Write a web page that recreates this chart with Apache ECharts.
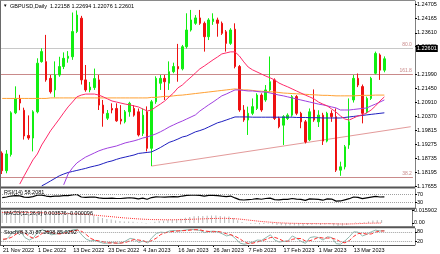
<!DOCTYPE html>
<html><head><meta charset="utf-8">
<script src="https://cdn.jsdelivr.net/npm/echarts@6/dist/echarts.min.js"></script>
<style>html,body{margin:0;padding:0;background:#fff;}#c{width:440px;height:254px;}</style>
</head><body><div id="c"></div>
<script>
const dates = [
'2022-11-21','2022-11-22','2022-11-23','2022-11-24','2022-11-25','2022-11-28','2022-11-29','2022-11-30',
'2022-12-01','2022-12-02','2022-12-05','2022-12-06','2022-12-07','2022-12-08','2022-12-09','2022-12-12','2022-12-13','2022-12-14','2022-12-15','2022-12-16','2022-12-19','2022-12-20','2022-12-21','2022-12-22','2022-12-23','2022-12-26','2022-12-27','2022-12-28','2022-12-29','2022-12-30',
'2023-01-02','2023-01-03','2023-01-04','2023-01-05','2023-01-06','2023-01-09','2023-01-10','2023-01-11','2023-01-12','2023-01-13','2023-01-16','2023-01-17','2023-01-18','2023-01-19','2023-01-20','2023-01-23','2023-01-24','2023-01-25','2023-01-26','2023-01-27','2023-01-30','2023-01-31',
'2023-02-01','2023-02-02','2023-02-03','2023-02-06','2023-02-07','2023-02-08','2023-02-09','2023-02-10','2023-02-13','2023-02-14','2023-02-15','2023-02-16','2023-02-17','2023-02-20','2023-02-21','2023-02-22','2023-02-23','2023-02-24','2023-02-27','2023-02-28',
'2023-03-01','2023-03-02','2023-03-03','2023-03-06','2023-03-07','2023-03-08','2023-03-09','2023-03-10','2023-03-13','2023-03-14','2023-03-15','2023-03-16','2023-03-17','2023-03-20','2023-03-21','2023-03-22'];
const shiftSlots = ['s1','s2','s3','s4','s5','s6'];
const tickLabels = ['21 Nov 2022','1 Dec 2022','13 Dec 2022','23 Dec 2022','4 Jan 2023','16 Jan 2023','26 Jan 2023','7 Feb 2023','17 Feb 2023','1 Mar 2023','13 Mar 2023'];
const tickEvery = 8;

const opens = [
1.1893,1.1825,1.1888,1.2050,1.2106,1.2060,1.1962,1.1952,1.2054,1.2249,
1.2249,1.2184,1.2139,1.2197,1.2230,1.2262,1.2268,1.2366,1.2418,1.2178,
1.2139,1.2148,1.2178,1.2080,1.2029,1.2067,1.2067,1.2025,1.2015,1.2054,
1.2067,1.2054,1.1970,1.2054,1.1912,1.2093,1.2165,1.2184,1.2165,1.2210,
1.2230,1.2221,1.2307,1.2372,1.2398,1.2419,1.2398,1.2346,1.2405,1.2411,
1.2398,1.2365,1.2320,1.2375,1.2230,1.2061,1.2022,1.2048,1.2067,1.2119,
1.2100,1.2139,1.2178,1.2028,1.2002,1.2028,1.2041,1.2113,1.2048,1.2015,
1.1945,1.2061,1.2015,1.2041,1.1940,1.2048,1.2035,1.1827,1.1840,1.1925,
1.2100,1.2184,1.2152,1.2054,1.2106,1.2204,1.2275,1.22158];
const closes = [
1.1825,1.1890,1.2050,1.2106,1.2088,1.1960,1.1952,1.2054,1.2243,1.2288,
1.2178,1.2132,1.2197,1.2230,1.2262,1.2270,1.2366,1.2430,1.2178,1.2139,
1.2150,1.2183,1.2080,1.2048,1.2048,1.2061,1.2019,1.2018,1.2054,1.2087,
1.2041,1.1964,1.2041,1.1912,1.2093,1.2184,1.2184,1.2171,1.2210,1.2230,
1.2221,1.2307,1.2372,1.2411,1.2419,1.2398,1.2346,1.2411,1.2415,1.2398,
1.2359,1.2320,1.2372,1.2230,1.2061,1.2022,1.2048,1.2074,1.2119,1.2061,
1.2139,1.2171,1.2028,1.1996,1.2035,1.2041,1.2113,1.2048,1.2015,1.1937,
1.2054,1.2022,1.2041,1.1940,1.2048,1.2035,1.1827,1.1840,1.1918,1.2015,
1.2184,1.2158,1.2048,1.2106,1.2184,1.2281,1.2216,1.22601];
const highs = [
1.1900,1.1905,1.2056,1.2153,1.2120,1.2070,1.2040,1.2060,1.2262,1.2301,
1.2353,1.2197,1.2250,1.2268,1.2285,1.2290,1.2440,1.2448,1.2427,1.2236,
1.2170,1.2222,1.2197,1.2100,1.2061,1.2087,1.2087,1.2080,1.2061,1.2093,
1.2080,1.2067,1.2067,1.2075,1.2100,1.2192,1.2197,1.2197,1.2250,1.2245,
1.2318,1.2314,1.2437,1.2450,1.2430,1.2450,1.2405,1.2418,1.2437,1.2420,
1.2405,1.2372,1.2379,1.2398,1.2236,1.2080,1.2074,1.2106,1.2126,1.2126,
1.2158,1.2269,1.2184,1.2035,1.2041,1.2048,1.2119,1.2119,1.2054,1.2022,
1.2067,1.2141,1.2060,1.2050,1.2054,1.2060,1.2067,1.1860,1.1925,1.2106,
1.2197,1.2203,1.2160,1.2113,1.2190,1.2288,1.2281,1.22694];
const lows = [
1.1812,1.1815,1.1880,1.2045,1.2060,1.1946,1.1945,1.1900,1.2048,1.2245,
1.2171,1.2125,1.2110,1.2190,1.2220,1.2245,1.2256,1.2360,1.2160,1.2132,
1.2130,1.2139,1.2061,1.1996,1.2022,1.2048,1.2015,1.2005,1.2009,1.2035,
1.2035,1.1958,1.1960,1.1900,1.1843,1.2085,1.2139,1.2100,1.2139,1.2204,
1.2171,1.2215,1.2300,1.2366,1.2392,1.2392,1.2288,1.2333,1.2392,1.2346,
1.2353,1.2288,1.2314,1.2223,1.2054,1.2015,1.1964,1.2041,1.2061,1.2054,
1.2093,1.2132,1.2022,1.1990,1.1925,1.2022,1.2035,1.2041,1.1990,1.1931,
1.1940,1.2015,1.1995,1.1925,1.1935,1.2015,1.1820,1.1805,1.1830,1.1910,
1.2090,1.2150,1.2009,1.2048,1.2100,1.2200,1.2178,1.22076];

const maPink = [
null,null,null,null,1.1773,1.1805,1.1836,1.1867,1.1890,1.1925,
1.1952,1.1980,1.2003,1.2026,1.2050,1.2073,1.2092,1.2112,1.2119,1.2123,
1.2123,1.2123,1.2119,1.2112,1.2104,1.2096,1.2092,1.2088,1.2084,1.2081,
1.2077,1.2073,1.2065,1.2057,1.2061,1.2073,1.2084,1.2096,1.2112,1.2127,
1.2147,1.2158,1.2174,1.2189,1.2205,1.2221,1.2232,1.2244,1.2256,1.2267,
1.2279,1.2283,1.2287,1.2287,1.2271,1.2248,1.2228,1.2217,1.2209,1.2201,
1.2193,1.2186,1.2178,1.2166,1.2158,1.2151,1.2143,1.2135,1.2127,1.2119,
1.2112,1.2104,1.2092,1.2084,1.2077,1.2065,1.2053,1.2038,1.2026,1.2022,
1.2030,1.2038,1.2042,1.2050,1.2061,1.2077,1.2096,1.2112];
const maPurple = [
null,null,null,null,null,null,null,null,null,null,
null,null,null,null,1.1770,1.1812,1.1836,1.1855,1.1867,1.1878,
1.1886,1.1894,1.1902,1.1908,1.1913,1.1917,1.1921,1.1927,1.1933,1.1937,
1.1941,1.1946,1.1952,1.1956,1.1962,1.1968,1.1976,1.1985,1.1995,1.2003,
1.2011,1.2018,1.2026,1.2034,1.2042,1.2057,1.2069,1.2081,1.2092,1.2104,
1.2116,1.2123,1.2131,1.2139,1.2139,1.2137,1.2135,1.2135,1.2133,1.2131,
1.2131,1.2127,1.2123,1.2119,1.2116,1.2112,1.2108,1.2104,1.2100,1.2096,
1.2092,1.2088,1.2084,1.2081,1.2077,1.2073,1.2069,1.2061,1.2061,1.2061,
1.2063,1.2065,1.2067,1.2069,1.2077,1.2084,1.2092,1.2100];
const maBlue = [
null,null,null,null,null,null,null,null,null,1.1766,
1.1775,1.1785,1.1795,1.1805,1.1812,1.1818,1.1822,1.1826,1.1830,1.1834,
1.1839,1.1843,1.1847,1.1853,1.1859,1.1863,1.1869,1.1874,1.1878,1.1882,
1.1886,1.1892,1.1894,1.1896,1.1898,1.1906,1.1915,1.1925,1.1935,1.1941,
1.1948,1.1956,1.1960,1.1968,1.1976,1.1981,1.1987,1.1995,1.2003,1.2011,
1.2016,1.2022,1.2028,1.2034,1.2034,1.2034,1.2034,1.2033,1.2033,1.2033,
1.2033,1.2033,1.2033,1.2033,1.2033,1.2033,1.2033,1.2032,1.2032,1.2032,
1.2031,1.2031,1.2031,1.2030,1.2030,1.2030,1.2030,1.2030,1.2032,1.2034,
1.2036,1.2038,1.2040,1.2042,1.2044,1.2046,1.2048,1.2050];
const maOrange = [
1.2106,1.2106,1.2106,1.2106,1.2106,1.2106,1.2106,1.2106,1.2106,1.2106,
1.2106,1.2108,1.2108,1.2108,1.2108,1.2108,1.2108,1.2108,1.2108,1.2108,
1.2108,1.2108,1.2108,1.2108,1.2108,1.2108,1.2108,1.2108,1.2108,1.2108,
1.2108,1.2108,1.2108,1.2108,1.2110,1.2110,1.2112,1.2114,1.2114,1.2116,
1.2118,1.2119,1.2121,1.2123,1.2125,1.2127,1.2129,1.2131,1.2133,1.2135,
1.2137,1.2139,1.2141,1.2143,1.2141,1.2139,1.2139,1.2137,1.2135,1.2134,
1.2133,1.2132,1.2131,1.2129,1.2127,1.2126,1.2125,1.2124,1.2123,1.2122,
1.2121,1.2120,1.2119,1.2118,1.2118,1.2117,1.2116,1.2116,1.2116,1.2116,
1.2116,1.2117,1.2118,1.2118,1.2118,1.2119,1.2119,1.2119];

const rsi = [
55,58,63,65,64,57,56,60,67,68,
63,60,62,63,65,65,69,71,58,56,
57,58,53,51,51,52,50,50,52,54,
52,48,52,46,55,59,58,57,59,60,
59,63,66,67,67,66,63,66,66,65,
62,60,63,53,44,42,44,46,49,46,
50,52,44,43,45,45,50,47,45,40,
48,47,45,41,48,47,36,37,43,49,
58,56,49,53,57,61,58,58.2081];
const macdMain = [
0.0150,0.0148,0.0155,0.0159,0.0158,0.0147,0.0136,0.0133,0.0144,0.0153,
0.0149,0.0141,0.0137,0.0135,0.0134,0.0132,0.0137,0.0144,0.0128,0.0112,
0.0099,0.0090,0.0075,0.0061,0.0049,0.0041,0.0031,0.0023,0.0019,0.0018,
0.0015,0.0006,0.0004,-0.0006,0.0002,0.0015,0.0023,0.0028,0.0035,0.0041,
0.0044,0.0052,0.0063,0.0074,0.0082,0.0086,0.0085,0.0088,0.0090,0.0090,
0.0086,0.0079,0.0078,0.0061,0.0034,0.0010,-0.0005,-0.0011,-0.0011,-0.0015,
-0.0012,-0.0007,-0.0016,-0.0025,-0.0029,-0.0031,-0.0027,-0.0028,-0.0031,-0.0035,
-0.0026,-0.0021,-0.0020,-0.0025,-0.0020,-0.0017,-0.0033,-0.0037,-0.0034,-0.0024,
-0.0005,0.0005,0.0004,0.0009,0.0018,0.0029,0.0032,0.003576];
const macdSignal = [
0.0128,0.0129,0.0130,0.0131,0.0131,0.0130,0.0129,0.0127,0.0126,0.0125,
0.0124,0.0122,0.0120,0.0118,0.0116,0.0114,0.0113,0.0112,0.0110,0.0106,
0.0102,0.0097,0.0092,0.0087,0.0082,0.0077,0.0072,0.0067,0.0062,0.0058,
0.0054,0.0050,0.0047,0.0044,0.0042,0.0041,0.0040,0.0039,0.0039,0.0039,
0.0040,0.0041,0.0042,0.0044,0.0046,0.0048,0.0050,0.0052,0.0054,0.0055,
0.0056,0.0056,0.0055,0.0053,0.0049,0.0044,0.0038,0.0032,0.0026,0.0020,
0.0015,0.0011,0.0007,0.0003,0.0000,-0.0002,-0.0004,-0.0005,-0.0006,-0.0007,
-0.0008,-0.0008,-0.0008,-0.0009,-0.0009,-0.0009,-0.0010,-0.0012,-0.0013,-0.0013,
-0.0012,-0.0010,-0.0008,-0.0006,-0.0004,-0.0003,-0.0002,-0.000096];
const stochMain = [
30,40,70,88,82,45,30,45,80,92,
78,62,66,72,80,84,92,95,60,35,
25,28,18,10,12,15,10,12,25,40,
35,15,25,12,45,70,78,75,85,88,
84,88,92,94,92,88,75,82,84,80,
68,55,62,40,12,5,10,18,30,28,
45,62,30,18,22,25,55,40,22,10,
45,50,45,30,50,45,8,5,25,50,
80,78,55,65,80,90,85,87.2698];
const stochSignal = [
35,38,47,66,80,72,52,40,52,72,
83,77,69,67,73,79,85,90,82,63,
40,29,24,19,13,12,12,12,16,26,
33,30,25,17,27,42,64,74,79,83,
86,87,88,91,93,91,85,82,80,82,
77,68,62,52,38,19,9,11,19,25,
34,45,46,37,23,22,34,40,39,24,
26,35,47,42,42,42,34,19,13,27,
52,69,71,66,67,78,85,85.0292];

const priceTicks = [1.24705,1.24165,1.23610,1.23070,1.21990,1.21450,1.20910,1.20370,1.19815,1.19275,1.18735,1.18195,1.17655];
const fibLevels = [1.22905, 1.22089, 1.18240];
const fibNames = ['80.0', '161.8', '38.2'];
const bidPrice = 1.22601;
const trendStart = {index: 34, price: 1.1843};
const trendEnd = {index: 93, price: 1.1996};
const header = 'GBPUSD,Daily  1.22158 1.22694 1.22076 1.22601';

const all = [opens,closes,highs,lows,maPink,maPurple,maBlue,maOrange,rsi,macdMain,macdSignal,stochMain,stochSignal];
all.forEach((a,k)=>{ if(a.length!==dates.length) throw new Error('len '+k+' '+a.length); });

const cats = dates.concat(shiftSlots);
const FONT = 'Liberation Sans';
const AX = '#808080';
const chart = echarts.init(document.getElementById('c'), null, {renderer:'canvas'});

const gridL = -0.7, gridW = 4.4*cats.length;
const grids = [
  {left:gridL, top:1, width:gridW, height:186},
  {left:gridL, top:189, width:gridW, height:19},
  {left:gridL, top:210, width:gridW, height:16},
  {left:gridL, top:228.5, width:gridW, height:16.5}
];
const showTick = (i)=>i%tickEvery===0 && i/tickEvery<tickLabels.length;
const xAxes = grids.map((g,k)=>({
  type:'category', gridIndex:k, data:cats, boundaryGap:true,
  axisLine:{show:false},
  axisTick:{show:k===3, alignWithLabel:true, length:2, interval:showTick, lineStyle:{color:'#000'}},
  axisLabel:{show:k===3, interval:showTick,
    formatter:(v,i)=>tickLabels[i/tickEvery]||'', align:'left', fontSize:5.5, color:'#000', margin:2, fontFamily:FONT},
  splitLine:{show:false}
}));
function yAx(k,min,max,vals,fmt){
  return {type:'value', gridIndex:k, position:'right', offset:2.1, min:min, max:max,
    splitLine:{show:false},
    axisLine:{show:true, lineStyle:{color:AX, width:1}},
    axisTick:{show:true, length:2, customValues:vals, lineStyle:{color:'#000'}},
    axisLabel:{customValues:vals, formatter:fmt, fontSize:5.5, color:'#000', margin:2, fontFamily:FONT}};
}
const yAxes = [
  yAx(0,1.17616,1.24848,priceTicks,v=>v.toFixed(5)),
  yAx(1,0,100,[100,70,30,0],v=>String(v)),
  yAx(2,-0.003776,0.015902,[0.015902,0,-0.003776],v=>v===0?'0.00':v.toFixed(6)),
  yAx(3,0,100,[100,80,20],v=>String(v))
];

const fibLine = fibLevels.map((v,i)=>({yAxis:v, lineStyle:{color:'#c98a8a', width:1, type:'solid'},
  label:{show:true, formatter:fibNames[i], position:'insideEndTop', distance:1, color:'#c98a8a', fontSize:5, fontFamily:FONT}}));
const bidLine = {yAxis:bidPrice, lineStyle:{color:'#c8c8c8', width:1, type:'solid'},
  label:{show:true, position:'end', distance:3, formatter:bidPrice.toFixed(5), backgroundColor:'#000', color:'#fff', fontSize:5.5, fontFamily:FONT, padding:[1,1,0,1]}};
const trendLine = [{coord:[cats[trendStart.index], trendStart.price]},{coord:[cats[trendEnd.index], trendEnd.price], lineStyle:{color:'#e39a9a', width:1, type:'solid'}, label:{show:false}}];

function maSeries(data,color){
  return {type:'line', xAxisIndex:0, yAxisIndex:0, data:data, symbol:'none', z:5,
    lineStyle:{color:color, width:1}, connectNulls:false, silent:true};
}
const series = [
  {type:'candlestick', xAxisIndex:0, yAxisIndex:0, barWidth:2, z:3,
    data: opens.map((o,i)=>[o, closes[i], lows[i], highs[i]]),
    itemStyle:{color:'#11ee11', color0:'#ee1111', borderColor:'#11ee11', borderColor0:'#ee1111', borderWidth:1},
    markLine:{symbol:['none','none'], silent:true, animation:false, z:2,
      data: fibLine.concat([bidLine, trendLine])}},
  maSeries(maOrange,'#ffa033'),
  maSeries(maBlue,'#1f1fbf'),
  maSeries(maPurple,'#a040e0'),
  maSeries(maPink,'#ff2a6a'),
  {type:'line', xAxisIndex:1, yAxisIndex:1, data:rsi, symbol:'none', lineStyle:{color:'#000', width:1.2},
    markLine:{symbol:['none','none'], silent:true, animation:false, label:{show:false},
      lineStyle:{color:'#a0a0a0', type:'dotted', width:1}, data:[{yAxis:70},{yAxis:30}]}},
  {type:'bar', xAxisIndex:2, yAxisIndex:2, data:macdMain, barWidth:1, itemStyle:{color:'#b8b8b8'}},
  {type:'line', xAxisIndex:2, yAxisIndex:2, data:macdSignal, symbol:'none', lineStyle:{color:'#ff3030', width:1, type:'dotted'}},
  {type:'line', xAxisIndex:3, yAxisIndex:3, data:stochMain, symbol:'none', lineStyle:{color:'#8fb8ae', width:1, type:'solid'},
    markLine:{symbol:['none','none'], silent:true, animation:false, label:{show:false},
      lineStyle:{color:'#a0a0a0', type:'dotted', width:1}, data:[{yAxis:80},{yAxis:20}]}},
  {type:'line', xAxisIndex:3, yAxisIndex:3, data:stochSignal, symbol:'none', lineStyle:{color:'#ff3030', width:1, type:'dashed'}}
];

const txt = (x,y,t,size)=>({type:'text', x:x, y:y, z:100, silent:true,
  style:{text:t, fill:'#000', font:(size||5.5)+'px '+FONT, textVerticalAlign:'middle'}});
const hline = (y,w,c)=>({type:'line', z:95, silent:true, shape:{x1:0, y1:y, x2:415, y2:y}, style:{stroke:c, lineWidth:w}});
const vline = (x,y1,y2)=>({type:'line', z:95, silent:true, shape:{x1:x, y1:y1, x2:x, y2:y2}, style:{stroke:'#6a6a6a', lineWidth:1}});
const graphic = [
  hline(0.5,1,'#8a8a8a'), hline(187.5,2,'#555'), hline(208.8,2,'#555'), hline(227.3,2,'#555'), hline(245.5,1,'#555'),
  vline(0.5,0.5,245.5),
  txt(3,6,'\u25BC',4.5), txt(10,6,header),
  txt(4,192,'RSI(14) 58.2081'),
  txt(4,213,'MACD(12,26,9) 0.003576 -0.000096'),
  txt(4,232,'Stoch(8,3,3) 87.2698 85.0292')
];

chart.setOption({
  animation:false, backgroundColor:'#ffffff',
  textStyle:{fontFamily:FONT},
  grid:grids, xAxis:xAxes, yAxis:yAxes, series:series, graphic:graphic
});
</script></body></html>
